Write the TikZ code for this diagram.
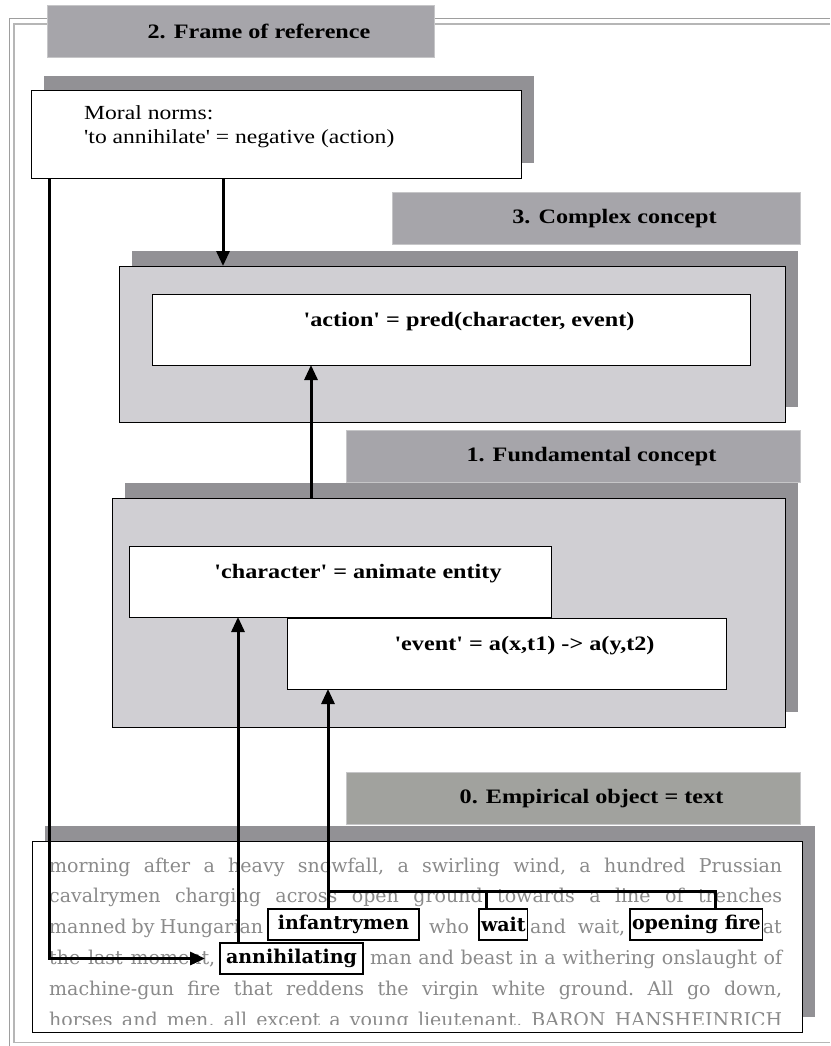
\documentclass[tikz,border=0pt]{standalone}
\usepackage{fontspec}
\newfontfamily\headfamily{Liberation Serif}[FakeStretch=1.18]
\newfontfamily\bodyfamily{DejaVu Serif}
\usepackage{tikz}
\usetikzlibrary{arrows.meta,shadows}
\usepackage{xcolor}

\definecolor{titlegrey}{RGB}{166,165,170}
\definecolor{objgrey}{RGB}{161,162,158}
\definecolor{shadegrey}{RGB}{146,145,149}
\definecolor{panelgrey}{RGB}{208,207,211}
\definecolor{edgegrey}{RGB}{198,198,200}
\definecolor{framegrey}{RGB}{158,158,158}
\definecolor{prosegrey}{RGB}{138,138,138}

\newcommand\headfont{\headfamily\bfseries\fontsize{20.5pt}{24pt}\selectfont}
\newcommand\normfont{\headfamily\fontsize{20pt}{24pt}\selectfont}
\newcommand\prosefont{\bodyfamily\frenchspacing\fontsize{19pt}{24pt}\selectfont}

\tikzset{
  box/.style={draw, line width=1pt, fill=white, inner sep=0pt, outer sep=0pt, anchor=north west},
  panel/.style={box, fill=panelgrey},
  shaded/.style={drop shadow={shadow xshift=13pt, shadow yshift=15pt, fill=shadegrey, opacity=1}},
  heading/.style={draw=edgegrey, line width=1pt, fill=titlegrey, inner sep=0pt, anchor=north west},
  headlabel/.style={font=\headfont, inner sep=0pt, xshift=18pt},
  title/.style={label={[headlabel]center:#1}},
  formula/.style={label={[headlabel, yshift=8pt]center:#1}},
  word/.style={draw, line width=1.4pt, fill=white, inner xsep=2pt, inner ysep=0pt, outer sep=0pt,
    minimum height=31pt, anchor=north west, font=\prosefont\bfseries},
  prose/.style={inner sep=0pt, anchor=base west, font=\prosefont, text=prosegrey},
  link/.style={line width=3pt},
}

\begin{document}
\begin{tikzpicture}[x=1pt, y=-1pt, >={Triangle[length=15pt,width=13pt]}]
  \useasboundingbox (0,0) rectangle (830,1046);
  \draw[framegrey, line width=1.5pt] (830,18.5) -- (9.5,18.5) -- (9.5,1046);
  \draw[framegrey!75, line width=1.5pt] (830,24) -- (14,24) -- (14,1042.5) -- (830,1042.5);

  \node (t2) [heading, minimum width=387pt, minimum height=52pt, title={2. Frame of reference}] at (47,5) {};
  \node (moral) [box, shaded, minimum width=490pt, minimum height=87pt,
    label={[anchor=north west, font=\normfont, align=left, inner sep=0pt, xshift=53pt, yshift=-14pt]north west:{Moral norms:\\'to annihilate' = negative (action)}}] at (31,91) {};

  \node (t3) [heading, minimum width=408pt, minimum height=52pt, title={3. Complex concept}] at (392,192) {};
  \node (cplx) [panel, shaded, minimum width=666pt, minimum height=156pt] at (119,266) {};
  \node (action) [box, minimum width=598pt, minimum height=71pt, formula={'action' = pred(character, event)}] at (152,294) {};

  \node (t1) [heading, minimum width=454pt, minimum height=52pt, title={1. Fundamental concept}] at (346,430) {};
  \node (fund) [panel, shaded, minimum width=673pt, minimum height=229pt] at (112,498) {};
  \node (charac) [box, minimum width=422pt, minimum height=71pt, formula={'character' = animate entity}] at (129,546) {};
  \node (event) [box, minimum width=439pt, minimum height=71pt, formula={'event' = a(x,t1) -> a(y,t2)}] at (287,618) {};

  \node (t0) [heading, fill=objgrey, minimum width=454pt, minimum height=52pt, title={0. Empirical object = text}] at (346,772) {};
  \node (text) [box, shaded, minimum width=770pt, minimum height=191pt] at (32,841) {};

  \begin{scope}
    \clip (32,841) rectangle (802,1024);
    \node (l1) [prose] at (49,872) {\makebox[733pt][s]{morning after a heavy snowfall, a swirling wind, a hundred Prussian}};
    \node (l2) [prose] at (49,902.5) {\makebox[733pt][s]{cavalrymen charging across open ground towards a line of trenches}};
    \node (l3a) [prose] at (49,933) {\makebox[214pt][s]{manned by Hungarian}};
    \node (l3b) [prose, anchor=base] at (449,933) {who};
    \node (l3c) [prose] at (530,933) {\makebox[95pt][s]{and wait,}};
    \node (l3d) [prose, anchor=base east] at (782,933) {at};
    \node (l4a) [prose] at (49,964) {\makebox[166pt][s]{the last moment,}};
    \node (l4b) [prose] at (370,964) {\makebox[412pt][s]{man and beast in a withering onslaught of}};
    \node (l5) [prose] at (49,995) {\makebox[733pt][s]{machine-gun fire that reddens the virgin white ground. All go down,}};
    \node (l6) [prose] at (49,1026) {\makebox[733pt][s]{horses and men, all except a young lieutenant, BARON HANSHEINRICH}};
  \end{scope}

  \node (inf) [word, minimum width=151pt] at (268,909) {infantrymen};
  \node (wait) [word, minimum width=45pt] at (479,909) {wait};
  \node (fire) [word, minimum width=131pt] at (630,909) {opening fire};
  \node (anni) [word, minimum width=143pt] at (220,943) {annihilating};

  \coordinate (fork) at ([xshift=60pt, yshift=18pt]inf.north west);
  \draw[->, link] ([xshift=192pt]moral.south west) -- ([xshift=104pt]cplx.north west);
  \draw[->, link] ([xshift=199pt]fund.north west) -- ([xshift=159pt]action.south west);
  \draw[->, link] ([xshift=18pt]anni.north west) -- ([xshift=109pt]charac.south west);
  \draw[->, link] ([xshift=60pt]inf.north west) -- ([xshift=41pt]event.south west);
  \draw[link] (fork) -| ([xshift=7pt]wait.north west);
  \draw[link] (fork) -| ([xshift=85pt]fire.north west);
  \draw[->, link] ([xshift=18pt]moral.south west) |- ([xshift=-15pt]anni.west);
\end{tikzpicture}
\end{document}
